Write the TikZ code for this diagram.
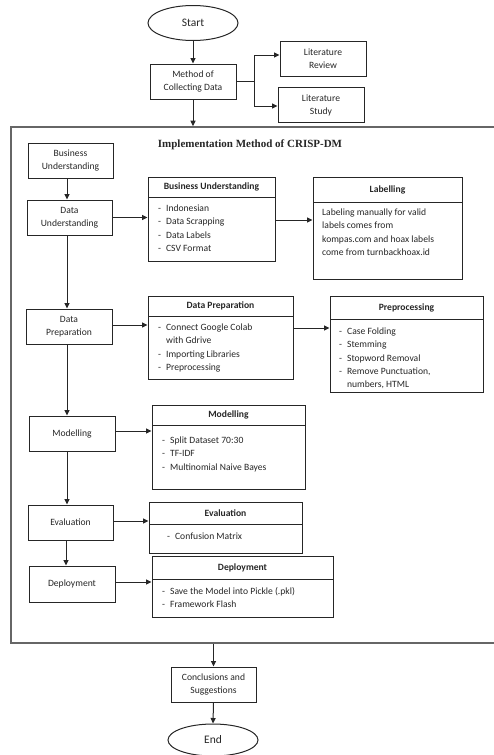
\documentclass[tikz,border=0pt]{standalone}
\usepackage{fontspec}
\setmainfont{Carlito}
\newfontfamily\titlefont{Liberation Serif}
\usetikzlibrary{arrows.meta,shapes.geometric,fit}
\tikzset{
  ln/.style={draw=black!85, line width=1pt},
  arr/.style={ln, -{Triangle[length=5.5pt,width=5pt]}},
  box/.style={ln, rectangle, minimum width=86pt, minimum height=35pt, inner sep=0pt, align=center, font=\fontsize{9.6}{13}\selectfont, text=black!85},
  oval/.style={ln, ellipse, minimum width=90pt, minimum height=35pt, inner sep=0pt, font=\fontsize{11.5}{13}\selectfont, text=black!85},
  tb/.style={ln, rectangle, inner sep=0pt},
  hd/.style={font=\fontsize{9.6}{13}\selectfont\bfseries, text=black!85, inner sep=0pt},
  body/.style={anchor=base west, inner sep=0pt, font=\fontsize{9.6}{13.3}\selectfont, text=black!85, align=left},
  frame/.style={draw=black!60, line width=1.6pt}
}
\newcommand\mytable[7]{%
  \node[tb, fit={(#2,#3) (#4,#5)}] (#1) {};
  \draw[ln] (#2,#6) -- (#4,#6);
  \node[hd] at ({(#2+#4)/2},{(#3+#6)/2}) {#7};
}
\begin{document}
\begin{tikzpicture}[x=1pt,y=-1pt]
\useasboundingbox (0,0) rectangle (494,755);

% top part
\node[oval] (start) at (193,23) {Start};
\node[box, minimum width=86pt] (mc) at (193,81.5) {Method of\\Collecting Data};
\node[box] (lr) at (323,59) {Literature\\Review};
\node[box] (ls) at (321,105) {Literature\\Study};
\draw[arr] (start) -- (mc);
\coordinate (br) at (254,81.5);
\draw[ln] (mc.east) -- (br);
\draw[arr] (br) |- (lr.west |- 0,55);
\draw[arr] (br) |- (ls.west |- 0,106);

% frame
\node[frame, fit={(11,127) (497,643)}, inner sep=0pt] (fr) {};
\draw[arr] (mc.south) -- (mc.south |- fr.north);
\node[font=\titlefont\fontsize{11}{13}\selectfont\bfseries, text=black!85] (title) at (250,145) {Implementation Method of CRISP-DM};

% left steps
\node[box, minimum width=85pt] (bu) at (70.5,160.5) {Business\\Understanding};
\node[box, minimum width=85pt] (du) at (69.5,217.5) {Data\\Understanding};
\node[box] (dp) at (69,326.5) {Data\\Preparation};
\node[box] (mo) at (72,433.5) {Modelling};
\node[box, minimum width=85pt] (ev) at (70.5,522.5) {Evaluation};
\node[box, minimum height=36pt] (de) at (72,584) {Deployment};

\coordinate (xl) at (67,0);
\draw[arr] (bu.south -| xl) -- (du.north -| xl);
\draw[arr] (du.south -| xl) -- (dp.north -| xl);
\draw[arr] (dp.south -| xl) -- (mo.north -| xl);
\draw[arr] (mo.south -| xl) -- (ev.north -| xl);
\draw[arr] (ev.south -| 66,0) -- (de.north -| 66,0);

% tables
\mytable{but}{148}{177}{275}{261}{197}{Business Understanding}
\mytable{lab}{313}{177}{462}{279}{202}{Labelling}
\mytable{dpt}{148}{296}{293}{379}{316}{Data Preparation}
\mytable{pre}{330}{296}{483}{392}{319}{Preprocessing}
\mytable{mot}{152}{405}{305}{489}{425}{Modelling}
\mytable{evt}{149}{502}{302}{553}{524}{Evaluation}
\mytable{det}{152}{556}{333}{617}{579}{Deployment}

\node[body] (b1) at (158,211.5) {\begin{tabular}[t]{@{}l@{\hspace{5pt}}l@{}}-&Indonesian\\-&Data Scrapping\\-&Data Labels\\-&CSV Format\end{tabular}};
\node[body] (b2) at (322,215.5) {\begin{tabular}[t]{@{}l@{}}Labeling manually for valid\\labels comes from\\kompas.com and hoax labels\\come from turnbackhoax.id\end{tabular}};
\node[body] (b3) at (158,330.5) {\begin{tabular}[t]{@{}l@{\hspace{5pt}}l@{}}-&Connect Google Colab\\&with Gdrive\\-&Importing Libraries\\-&Preprocessing\end{tabular}};
\node[body] (b4) at (339,334.5) {\begin{tabular}[t]{@{}l@{\hspace{5pt}}l@{}}-&Case Folding\\-&Stemming\\-&Stopword Removal\\-&Remove Punctuation,\\&numbers, HTML\end{tabular}};
\node[body] (b5) at (162,443.5) {\begin{tabular}[t]{@{}l@{\hspace{5pt}}l@{}}-&Split Dataset 70:30\\-&TF-IDF\\-&Multinomial Naive Bayes\end{tabular}};
\node[body] (b6) at (167,539.5) {\begin{tabular}[t]{@{}l@{\hspace{5pt}}l@{}}-&Confusion Matrix\end{tabular}};
\node[body] (b7) at (162,594.5) {\begin{tabular}[t]{@{}l@{\hspace{5pt}}l@{}}-&Save the Model into Pickle (.pkl)\\-&Framework Flash\end{tabular}};

% horizontal arrows
\draw[arr] (du.east) -- (du.east -| but.west);
\draw[arr] (but.east |- 0,220) -- (lab.west |- 0,220);
\draw[arr] (dp.east |- 0,325) -- (dpt.west |- 0,325);
\draw[arr] (dpt.east |- 0,328) -- (pre.west |- 0,328);
\draw[arr] (mo.east |- 0,431) -- (mot.west |- 0,431);
\draw[arr] (ev.east |- 0,521) -- (evt.west |- 0,521);
\draw[arr] (de.east |- 0,582) -- (det.west |- 0,582);

% bottom
\node[box, minimum width=85pt] (cs) at (213.5,684.5) {Conclusions and\\Suggestions};
\draw[arr] (cs.north |- fr.south) -- (cs.north);
\node[oval, minimum height=32pt] (end) at (213,740) {End};
\draw[arr] (cs.south) -- (end.north);
\end{tikzpicture}
\end{document}
